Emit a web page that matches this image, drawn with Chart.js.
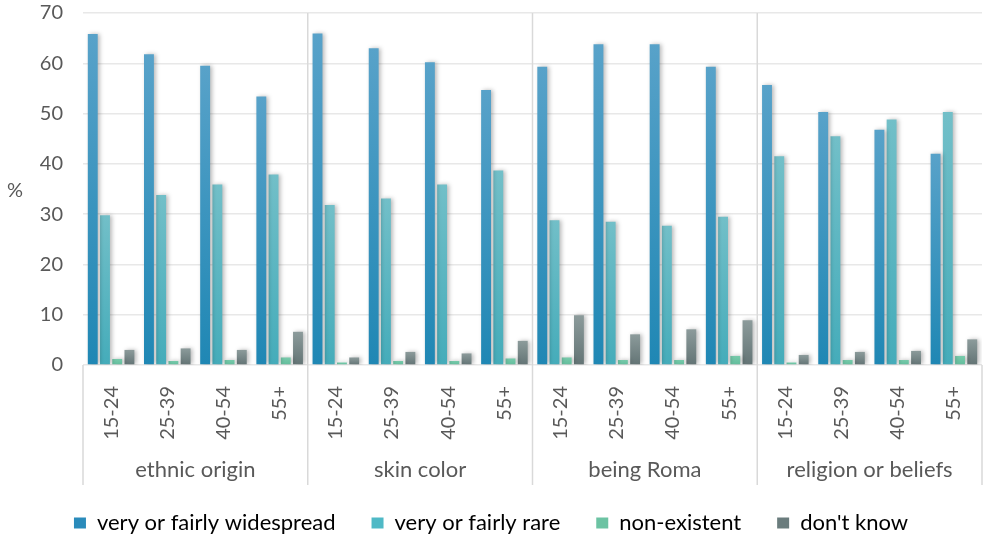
<!DOCTYPE html>
<html>
<head>
<meta charset="utf-8">
<script src="https://cdn.jsdelivr.net/npm/chart.js@4/dist/chart.umd.min.js"></script>
<style>
  html, body { margin: 0; padding: 0; background: #fff; }
  #wrap { width: 985px; height: 535px; }
</style>
</head>
<body>
<div id="wrap"><canvas id="chart"></canvas></div>
<script>
const groups = ["ethnic origin", "skin color", "being Roma", "religion or beliefs"];
const ages = ["15-24", "25-39", "40-54", "55+"];
const yTicks = [0, 10, 20, 30, 40, 50, 60, 70];

const widespread = [65.8, 61.8, 59.5, 53.4, 65.9, 63.0, 60.2, 54.7, 59.3, 63.8, 63.8, 59.3, 55.7, 50.3, 46.8, 42.0];
const rare = [29.8, 33.8, 35.9, 37.9, 31.8, 33.1, 35.9, 38.7, 28.8, 28.5, 27.7, 29.5, 41.5, 45.5, 48.8, 50.3];
const nonExistent = [1.2, 0.8, 1.0, 1.5, 0.5, 0.8, 0.8, 1.3, 1.5, 1.0, 1.0, 1.8, 0.5, 1.0, 1.0, 1.8];
const dontKnow = [3.0, 3.3, 3.0, 6.6, 1.5, 2.6, 2.3, 4.8, 9.9, 6.1, 7.1, 8.9, 2.0, 2.6, 2.8, 5.1];

const labels = [];
groups.forEach(g => ages.forEach(a => labels.push(a)));

const FONT = "Lato, 'Open Sans', sans-serif";
const TXT = "#595959";

// vertical gradient from the top of each bar down to the axis
function grad(top, bottom) {
  return c => {
    const ch = c.chart;
    if (!ch.chartArea || !ch.scales.y || c.raw == null) return bottom;
    const y0 = ch.scales.y.getPixelForValue(c.raw);
    const y1 = ch.scales.y.getPixelForValue(0);
    if (!isFinite(y0) || y1 - y0 < 1) return bottom;
    const g = ch.ctx.createLinearGradient(0, y0, 0, y1);
    g.addColorStop(0, top);
    g.addColorStop(1, bottom);
    return g;
  };
}

const groupPlugin = {
  id: "groups",
  beforeDatasetsDraw(chart) {
    const { ctx, chartArea, scales } = chart;
    const x = scales.x;
    const per = ages.length;
    ctx.save();
    ctx.strokeStyle = "#d9d9d9";
    ctx.lineWidth = 1.5;
    for (let i = 0; i <= groups.length; i++) {
      let px;
      if (i === 0) px = x.left;
      else if (i === groups.length) px = x.right;
      else px = (x.getPixelForValue(i * per - 1) + x.getPixelForValue(i * per)) / 2;
      const top = (i === 0 || i === groups.length) ? chartArea.bottom : chartArea.top;
      ctx.beginPath();
      ctx.moveTo(px, top);
      ctx.lineTo(px, 485);
      ctx.stroke();
    }
    ctx.restore();
    // soft shadow behind bars
    ctx.save();
    ctx.shadowColor = "rgba(0,0,0,0.28)";
    ctx.shadowBlur = 4;
    ctx.shadowOffsetX = 2;
    ctx.shadowOffsetY = 0;
  },
  afterDatasetsDraw(chart) {
    chart.ctx.restore();
  },
  afterDraw(chart) {
    const { ctx, scales } = chart;
    const x = scales.x;
    const per = ages.length;
    ctx.save();
    ctx.fillStyle = TXT;
    ctx.font = "22px " + FONT;
    ctx.textAlign = "center";
    ctx.textBaseline = "middle";
    groups.forEach((g, i) => {
      const a = x.getPixelForValue(i * per);
      const b = x.getPixelForValue(i * per + per - 1);
      ctx.fillText(g, (a + b) / 2, 470);
    });
    ctx.font = "20px " + FONT;
    ctx.fillText("%", 15, 191);
    ctx.restore();
  }
};

new Chart(document.getElementById("chart"), {
  type: "bar",
  data: {
    labels: labels,
    datasets: [
      { label: "very or fairly widespread", data: widespread, backgroundColor: grad("#58a2c9", "#1f87b4") },
      { label: "very or fairly rare", data: rare, backgroundColor: grad("#72bfc8", "#45acba") },
      { label: "non-existent", data: nonExistent, backgroundColor: grad("#78caab", "#62bd9c") },
      { label: "don't know", data: dontKnow, backgroundColor: grad("#8c9b9b", "#637475") }
    ]
  },
  plugins: [groupPlugin],
  options: {
    responsive: true,
    maintainAspectRatio: false,
    animation: false,
    layout: { padding: { top: 13, right: 3, left: 0, bottom: -9 } },
    datasets: { bar: { categoryPercentage: 0.87, barPercentage: 0.81 } },
    scales: {
      x: {
        grid: { display: false },
        border: { display: false },
        ticks: {
          color: TXT, font: { family: FONT, size: 20 },
          minRotation: 90, maxRotation: 90, padding: 13, autoSkip: false
        },
        afterFit: s => { s.height = 111; s.paddingLeft = 0; s.paddingRight = 0; }
      },
      y: {
        min: 0, max: 70,
        afterBuildTicks: s => { s.ticks = yTicks.map(v => ({ value: v })); },
        grid: { color: "#e8e8e8", lineWidth: 1.5, drawTicks: false },
        border: { display: false },
        ticks: { color: TXT, font: { family: FONT, size: 20 }, padding: 20 },
        afterFit: s => { s.width = 83; s.paddingTop = 0; s.paddingBottom = 0; }
      }
    },
    plugins: {
      tooltip: { enabled: false },
      legend: {
        position: "bottom",
        labels: {
          color: TXT, font: { family: FONT, size: 22 },
          boxWidth: 12, boxHeight: 11, padding: 36,
          generateLabels: ch => ch.data.datasets.map((d, i) => ({
            text: d.label,
            fillStyle: ["#2a8bbb", "#4fb9c6", "#6cc3a3", "#6a7c7d"][i],
            strokeStyle: "rgba(0,0,0,0)",
            lineWidth: 0,
            datasetIndex: i
          }))
        }
      }
    }
  }
});
</script>
</body>
</html>
